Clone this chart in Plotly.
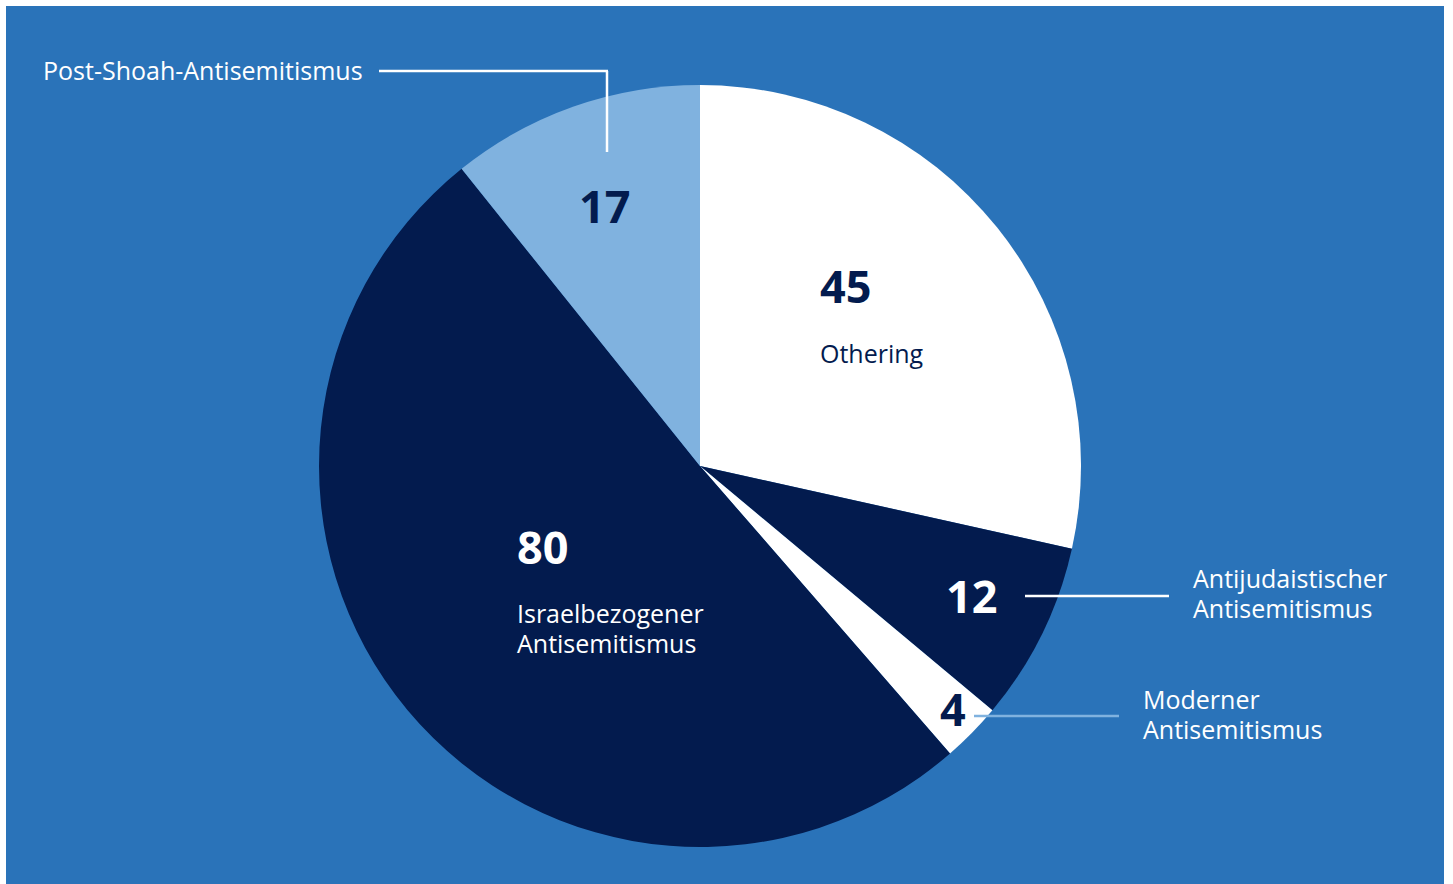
import plotly.graph_objects as go

# ---- data ----
categories = ["Othering", "Antijudaistischer Antisemitismus", "Moderner Antisemitismus",
              "Israelbezogener Antisemitismus", "Post-Shoah-Antisemitismus"]
values = [45, 12, 4, 80, 17]
slice_colors = ["#FFFFFF", "#031B4E", "#FFFFFF", "#031B4E", "#80B2DF"]
label_lines = [["Othering"], ["Antijudaistischer", "Antisemitismus"], ["Moderner", "Antisemitismus"],
               ["Israelbezogener", "Antisemitismus"], ["Post-Shoah-Antisemitismus"]]

W, H = 1453, 884
BG = "#2A73B9"
NAVY = "#031B4E"
FONT = "Open Sans"

def px(x):
    return x / W

def py(y):
    return 1 - y / H

cx, cy, r = 700, 466, 381

fig = go.Figure(go.Pie(
    labels=categories, values=values, sort=False, direction="clockwise", rotation=0,
    marker=dict(colors=slice_colors, line=dict(width=0)),
    textinfo="none", hoverinfo="label+value", showlegend=False,
    domain=dict(x=[px(cx - r), px(cx + r)], y=[py(cy + r), py(cy - r)]),
))

shapes = [
    dict(type="rect", xref="paper", yref="paper", x0=px(6), x1=px(1444), y0=0, y1=py(6),
         fillcolor=BG, line=dict(width=0), layer="below"),
    dict(type="line", xref="paper", yref="paper", x0=px(379), x1=px(608), y0=py(71), y1=py(71),
         line=dict(color="white", width=2.5)),
    dict(type="line", xref="paper", yref="paper", x0=px(607), x1=px(607), y0=py(71), y1=py(152),
         line=dict(color="white", width=2.5)),
    dict(type="line", xref="paper", yref="paper", x0=px(1025), x1=px(1169), y0=py(596), y1=py(596),
         line=dict(color="white", width=2.5)),
    dict(type="line", xref="paper", yref="paper", x0=px(974), x1=px(1119), y0=py(716), y1=py(716),
         line=dict(color="#80B2DF", width=2.5)),
]

def ann(text, x, y, color, size, bold=False):
    return dict(text=text, x=px(x), y=py(y), xref="paper", yref="paper", showarrow=False,
                xanchor="left", yanchor="middle", align="left",
                font=dict(family=FONT, size=size, color=color, weight=700 if bold else 400))

NUM = 45
LAB = 25
LH = 30
# (number x, number y, number colour, label x, first label line y, label colour)
placements = [
    (818, 286, NAVY, 818, 353, NAVY),
    (944, 595, "white", 1191, 578, "white"),
    (938, 708, NAVY, 1141, 699, "white"),
    (515, 546, "white", 515, 613, "white"),
    (577, 205, NAVY, 41, 70, "white"),
]

annotations = []
for v, lines, (nx, ny, nc, lx, ly, lc) in zip(values, label_lines, placements):
    annotations.append(ann(str(v), nx, ny, nc, NUM, True))
    for i, t in enumerate(lines):
        annotations.append(ann(t, lx, ly + i * LH, lc, LAB))

fig.update_layout(
    width=W, height=H, margin=dict(l=0, r=0, t=0, b=0),
    paper_bgcolor="white", plot_bgcolor="white",
    shapes=shapes, annotations=annotations,
    font=dict(family=FONT),
)

fig.write_html("out.html", config={"displayModeBar": False},
               post_script="document.body.style.margin='0';document.body.style.overflow='hidden';")
